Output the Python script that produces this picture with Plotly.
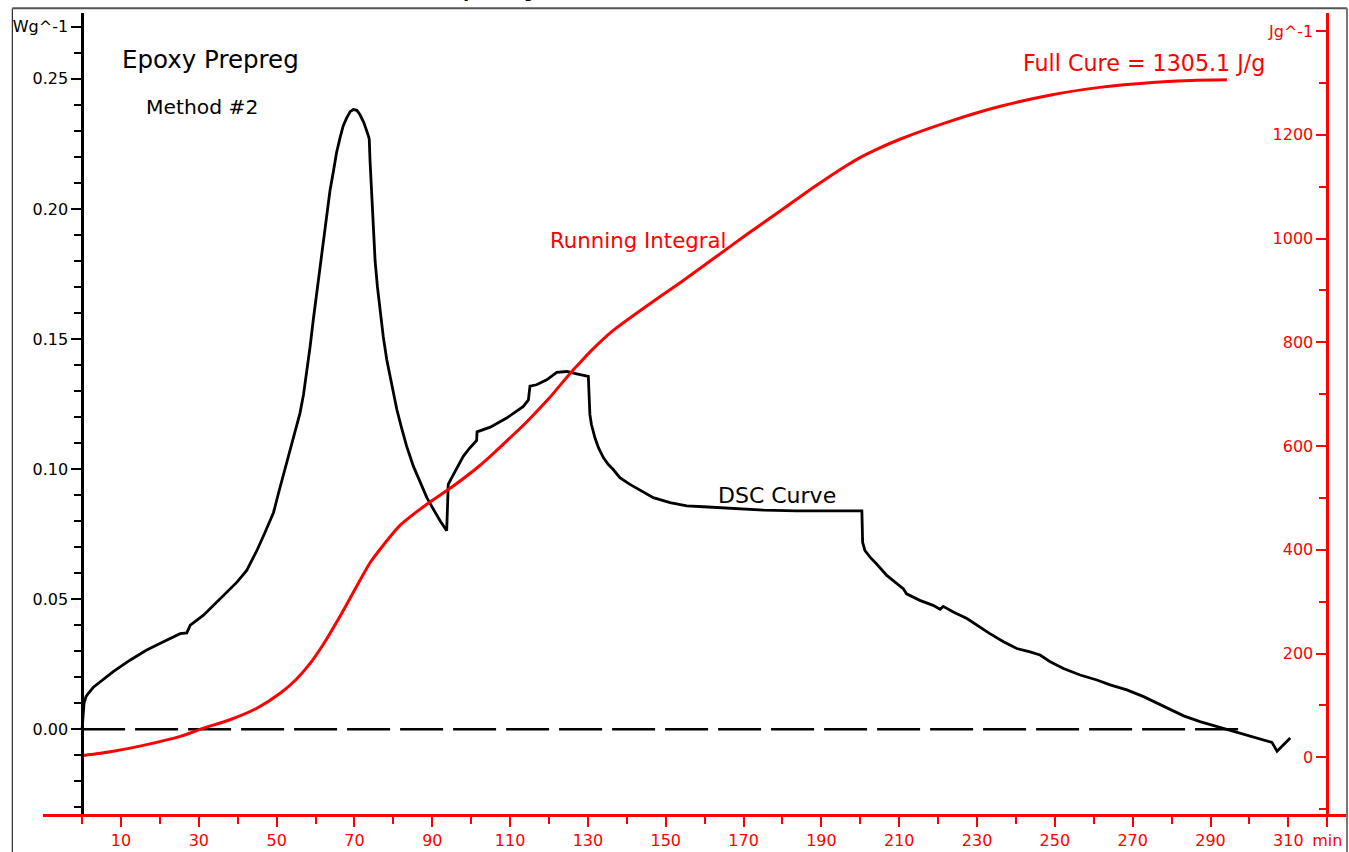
import plotly.graph_objects as go

# ---------------- data ----------------
time_dsc = [0, 0.15, 0.5, 1.0, 1.6, 2.9, 4.6, 8, 12.3, 16.6, 20.9, 25.2, 26.9, 27.8,
            31.2, 35.5, 39.8, 42.3, 44, 44.9, 47.0, 49.2, 50.4, 51.7, 53.0, 54.3, 55.2,
            56, 56.9, 57.7, 58.6, 59.4, 60.3, 61.2, 62.0, 62.9, 63.7, 64.6, 65.4, 66.3,
            67.1, 68, 68.9, 69.7, 70.6, 71.4, 72.4, 73.6, 73.8, 74.0, 74.4, 74.8, 75.3,
            75.9, 76.6, 77.4, 78.3, 79.6, 80.9, 82.1, 83.4, 85.1, 86.9, 88.6, 90.3,
            92.0, 93.7, 94.1, 95.0, 96.3, 98.0, 99.7, 101.4, 101.5, 104.9, 109.1,
            111.7, 113.4, 114.7, 115.1, 116.8, 119.4, 122, 124.6, 127.1, 130.1, 130.5,
            130.9, 131.8, 132.7, 134, 135.2, 136.5, 138.2, 140.8, 143.8, 146.8, 151.1,
            155.4, 159.7, 164, 169.1, 175.1, 183.7, 192.2, 200.4, 200.6, 201.2, 202.5,
            204.2, 206.8, 209.4, 211.1, 211.9, 215.3, 218.7, 220.5, 221.3, 223.9,
            227.4, 229.9, 233.3, 236.8, 240.2, 243.6, 246.2, 248.8, 252.2, 256.5,
            260.8, 264.2, 268.5, 272.8, 277.9, 283.1, 287.3, 291.6, 295.9, 300.2,
            303.6, 305.8, 307.1, 310.5]
heat_flow = [0.0, 0.0049, 0.0100, 0.0125, 0.0138, 0.0161, 0.0182, 0.0221, 0.0265,
             0.0304, 0.0336, 0.0367, 0.0370, 0.0400, 0.0438, 0.0501, 0.0565, 0.0610,
             0.0661, 0.0686, 0.0756, 0.0833, 0.0903, 0.0973, 0.1043, 0.1113, 0.1165,
             0.1215, 0.1286, 0.1368, 0.1471, 0.1572, 0.1675, 0.1777, 0.1879, 0.1980,
             0.2070, 0.2146, 0.2217, 0.2274, 0.2319, 0.2350, 0.2374, 0.2382, 0.2379,
             0.2363, 0.2332, 0.2280, 0.2268, 0.2185, 0.2057, 0.1904, 0.1800, 0.1700,
             0.1610, 0.1509, 0.1420, 0.1318, 0.1228, 0.1158, 0.1088, 0.1012, 0.0948,
             0.0890, 0.0845, 0.0801, 0.0763, 0.0941, 0.0967, 0.1005, 0.1050, 0.1082,
             0.1110, 0.1143, 0.1161, 0.1196, 0.1222, 0.1241, 0.1266, 0.1319, 0.1324,
             0.1343, 0.1372, 0.1375, 0.1366, 0.1356, 0.1210, 0.1171, 0.1120, 0.1082,
             0.1043, 0.1018, 0.0998, 0.0967, 0.0941, 0.0916, 0.0890, 0.0871, 0.0858,
             0.0855, 0.0852, 0.0846, 0.0842, 0.0839, 0.0839, 0.0839, 0.0718, 0.0686,
             0.0661, 0.0635, 0.0591, 0.0559, 0.0539, 0.0520, 0.0495, 0.0476, 0.0461,
             0.0472, 0.0450, 0.0425, 0.0399, 0.0367, 0.0336, 0.0310, 0.0297, 0.0285,
             0.0259, 0.0233, 0.0208, 0.0189, 0.0170, 0.0151, 0.0125, 0.0087, 0.0051,
             0.0029, 0.0010, -0.0009, -0.0025, -0.0041, -0.0051, -0.0085, -0.0034]

time_int = [0, 8, 16.6, 25.2, 31.2, 38, 44.9, 50.9, 55, 58.6, 62, 66, 70, 74, 77, 81.7,
            88.6, 95.4, 102.3, 108, 114.3, 120, 125.4, 128, 130.6, 136.5, 145.1, 153.7,
            162.2, 170.8, 179.4, 188, 196.5, 200.4, 204.2, 210, 223, 236, 249, 262,
            275, 285, 294.2]
running_integral = [3, 11.5, 24.4, 40.3, 56.2, 72.4, 94.6, 123.4, 150, 181, 218, 268,
                    322, 375, 405, 447, 488, 523, 563, 602, 647, 692, 740, 761, 782,
                    823, 870, 915, 961, 1008, 1053, 1099, 1141, 1158, 1172, 1191, 1226,
                    1255, 1277, 1292, 1301, 1305, 1306]

baseline_time = [0, 299.4]
baseline_value = [0, 0]

x_tickvals = [10, 30, 50, 70, 90, 110, 130, 150, 170, 190, 210, 230, 250, 270, 290, 310, 320]
x_ticktext = ["10", "30", "50", "70", "90", "110", "130", "150", "170", "190", "210",
              "230", "250", "270", "290", "310", "min"]
x_minor = [0, 20, 40, 60, 80, 100, 120, 140, 160, 180, 200, 220, 240, 260, 280, 300]

yl_tickvals = [0, 0.05, 0.10, 0.15, 0.20, 0.25, 0.27]
yl_ticktext = ["0.00", "0.05", "0.10", "0.15", "0.20", "0.25", "Wg^-1"]
yl_minor = [-0.03, -0.02, -0.01, 0.01, 0.02, 0.03, 0.04, 0.06, 0.07, 0.08, 0.09,
            0.11, 0.12, 0.13, 0.14, 0.16, 0.17, 0.18, 0.19, 0.21, 0.22, 0.23, 0.24, 0.26]

yr_tickvals = [0, 200, 400, 600, 800, 1000, 1200, 1400]
yr_ticktext = ["0", "200", "400", "600", "800", "1000", "1200", "Jg^-1"]
yr_minor = [-100, 100, 300, 500, 700, 900, 1100, 1300]

# ---------------- layout geometry (pixels) ----------------
W, H = 1349, 852
ML, MR, MT, MB = 43, 2, 13, 34
PW, PH = W - ML - MR, H - MT - MB


def px_x(p):
    return (p - ML) / PW


def px_y(p):
    return (H - MB - p) / PH


FONT = "DejaVu Sans"
RED = "#ff0000"
TICK_SIZE = 16

fig = go.Figure()

fig.add_trace(go.Scatter(x=baseline_time, y=baseline_value, mode="lines",
                         line=dict(color="black", width=2.5, dash="43px,10px"),
                         yaxis="y", showlegend=False, hoverinfo="skip"))
fig.add_trace(go.Scatter(x=time_dsc, y=heat_flow, mode="lines",
                         line=dict(color="black", width=2.8),
                         yaxis="y", showlegend=False, name="DSC Curve"))
fig.add_trace(go.Scatter(x=time_int, y=running_integral, mode="lines",
                         line=dict(color=RED, width=3, shape="spline", smoothing=0.6),
                         yaxis="y2", showlegend=False, name="Running Integral"))

fig.update_layout(
    width=W, height=H,
    margin=dict(l=ML, r=MR, t=MT, b=MB, pad=0),
    paper_bgcolor="white", plot_bgcolor="white",
    font=dict(family=FONT, size=TICK_SIZE, color="black"),
    showlegend=False,
    xaxis=dict(
        range=[-10.05, 325.08], domain=[0, 1], anchor="y",
        showline=True, linecolor=RED, linewidth=2.5,
        showgrid=False, zeroline=False,
        tickmode="array", tickvals=x_tickvals, ticktext=x_ticktext,
        ticks="outside", ticklen=10, tickwidth=2, tickcolor=RED,
        tickfont=dict(color=RED, size=TICK_SIZE, family=FONT),
        minor=dict(tickmode="array", tickvals=x_minor, ticks="outside",
                   ticklen=7, tickwidth=2, tickcolor=RED, showgrid=False),
    ),
    yaxis=dict(
        range=[-0.03263, 0.27533], domain=[0, 1], anchor="free",
        position=px_x(82.1), side="left",
        showline=True, linecolor="black", linewidth=2.5,
        showgrid=False, zeroline=False,
        tickmode="array", tickvals=yl_tickvals, ticktext=yl_ticktext,
        ticks="outside", ticklen=10, tickwidth=2, tickcolor="black",
        tickfont=dict(color="black", size=TICK_SIZE, family=FONT),
        minor=dict(tickmode="array", tickvals=yl_minor, ticks="outside",
                   ticklen=7, tickwidth=2, tickcolor="black", showgrid=False),
    ),
    yaxis2=dict(
        range=[-109.3, 1434.9], overlaying="y", anchor="free",
        position=px_x(1327.2), side="left",
        showline=True, linecolor=RED, linewidth=2.5,
        showgrid=False, zeroline=False,
        tickmode="array", tickvals=yr_tickvals, ticktext=yr_ticktext,
        ticks="outside", ticklen=10, tickwidth=2, tickcolor=RED,
        tickfont=dict(color=RED, size=TICK_SIZE, family=FONT),
        minor=dict(tickmode="array", tickvals=yr_minor, ticks="outside",
                   ticklen=7, tickwidth=2, tickcolor=RED, showgrid=False),
    ),
)

# frame around the chart
fig.add_shape(type="line", xref="paper", yref="paper",
              x0=px_x(12.3), x1=px_x(12.3), y0=px_y(8.3), y1=px_y(880),
              line=dict(color="black", width=1))
fig.add_shape(type="line", xref="paper", yref="paper",
              x0=px_x(12.3), x1=px_x(1347), y0=px_y(8.3), y1=px_y(8.3),
              line=dict(color="#555555", width=2))
fig.add_shape(type="line", xref="paper", yref="paper",
              x0=px_x(1347), x1=px_x(1347), y0=px_y(8.3), y1=px_y(880),
              line=dict(color="#777777", width=2))

# text labels
fig.add_annotation(text="Epoxy Prepreg", x=33.1, y=0.2574, xref="x", yref="y",
                   showarrow=False, font=dict(size=24.5, color="black", family=FONT))
fig.add_annotation(text="Method #2", x=30.9, y=0.239, xref="x", yref="y",
                   showarrow=False, font=dict(size=20.3, color="black", family=FONT))
fig.add_annotation(text="Running Integral", x=142.9, y=0.1877, xref="x", yref="y",
                   showarrow=False, font=dict(size=21.3, color=RED, family=FONT))
fig.add_annotation(text="DSC Curve", x=178.5, y=0.0898, xref="x", yref="y",
                   showarrow=False, font=dict(size=22, color="black", family=FONT))
fig.add_annotation(text="Full Cure = 1305.1 J/g", x=272.9, y=0.2562, xref="x", yref="y",
                   showarrow=False, font=dict(size=22.2, color=RED, family=FONT))
# title mostly cut off above the frame (only its lowest part visible, as in the reference)
fig.add_annotation(text="Epoxy", x=px_x(437.7), y=px_y(4), xref="paper", yref="paper",
                   xanchor="left", yanchor="bottom", showarrow=False,
                   font=dict(size=34, color="black", family=FONT))

fig.write_html("out.html", config={"displayModeBar": False},
               post_script="document.body.style.margin='0';document.body.style.overflow='hidden';")
